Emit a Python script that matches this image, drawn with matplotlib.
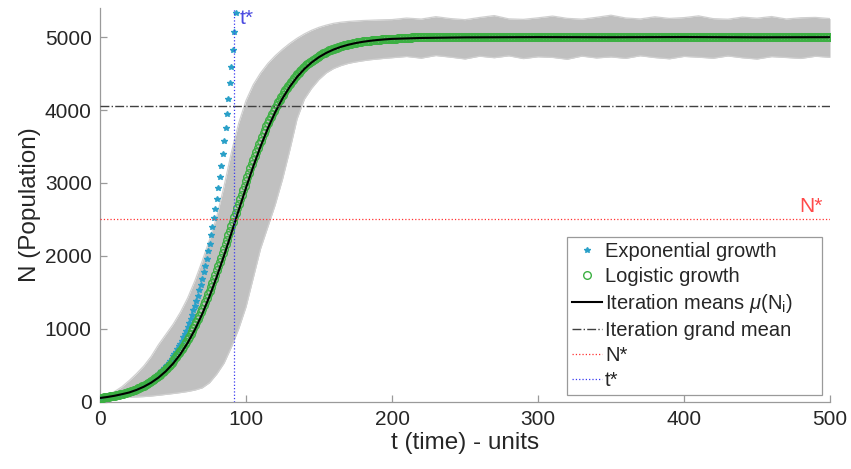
import numpy as np
import matplotlib
matplotlib.use("Agg")
import matplotlib.pyplot as plt

plt.rcParams['font.family'] = ['Liberation Sans', 'DejaVu Sans']
plt.rcParams['mathtext.fontset'] = 'custom'
plt.rcParams['mathtext.rm'] = 'Liberation Sans'
plt.rcParams['mathtext.it'] = 'Liberation Sans:italic'

# Exponential growth, one value per time unit starting at t = 0
exp_n = [51.0, 53.6, 56.4, 59.3, 62.3, 65.5, 68.8, 72.4, 76.1, 80.0,
         84.1, 88.4, 92.9, 97.7, 102.7, 108.0, 113.5, 119.3, 125.4, 131.9,
         138.6, 145.7, 153.2, 161.1, 169.3, 178.0, 187.1, 196.7, 206.8, 217.4,
         228.6, 240.3, 252.6, 265.6, 279.2, 293.5, 308.5, 324.4, 341.0, 358.5,
         376.8, 396.2, 416.5, 437.8, 460.3, 483.9, 508.7, 534.8, 562.2, 591.0,
         621.3, 653.2, 686.6, 721.9, 758.9, 797.8, 838.7, 881.7, 926.9, 974.4,
         1024.4, 1076.9, 1132.1, 1190.1, 1251.2, 1315.3, 1382.7, 1453.6, 1528.2, 1606.5,
         1688.9, 1775.5, 1866.5, 1962.2, 2062.8, 2168.6, 2279.8, 2396.6, 2519.5, 2648.7,
         2784.5, 2927.3, 3077.4, 3235.1, 3401.0, 3575.4, 3758.7, 3951.4, 4154.0, 4366.9,
         4590.9, 4826.3, 5073.7, 5333.8]

# Logistic growth, one value per time unit from t = 0 to t = 213
logistic_n = [51.0, 53.6, 56.3, 59.2, 62.2, 65.3, 68.6, 72.1, 75.7, 79.5,
              83.5, 87.7, 92.1, 96.8, 101.6, 106.7, 112.1, 117.7, 123.6, 129.8,
              136.2, 143.0, 150.2, 157.6, 165.4, 173.6, 182.1, 191.1, 200.6, 210.4,
              220.7, 231.5, 242.8, 254.6, 267.0, 279.9, 293.4, 307.5, 322.3, 337.7,
              353.8, 370.6, 388.1, 406.4, 425.5, 445.3, 466.0, 487.6, 510.0, 533.4,
              557.7, 583.0, 609.2, 636.5, 664.7, 694.1, 724.5, 756.1, 788.8, 822.5,
              857.5, 893.5, 930.8, 969.4, 1008.9, 1049.8, 1091.9, 1135.1, 1179.7, 1225.3,
              1272.2, 1320.2, 1369.3, 1419.6, 1470.9, 1523.4, 1576.8, 1631.3, 1686.7, 1743.1,
              1800.3, 1858.3, 1917.0, 1976.4, 2036.5, 2097.1, 2158.2, 2219.8, 2281.7, 2343.8,
              2406.2, 2468.6, 2531.4, 2593.8, 2656.2, 2718.3, 2780.2, 2841.8, 2902.9, 2963.5,
              3023.6, 3083.0, 3141.7, 3199.7, 3256.9, 3313.2, 3368.7, 3423.2, 3476.6, 3529.1,
              3580.4, 3630.7, 3679.8, 3727.8, 3774.7, 3820.3, 3864.9, 3908.1, 3950.2, 3991.1,
              4030.6, 4069.2, 4106.5, 4142.5, 4177.5, 4211.2, 4243.9, 4275.5, 4305.9, 4335.3,
              4363.5, 4390.8, 4417.0, 4442.3, 4466.6, 4490.0, 4512.4, 4534.0, 4554.7, 4574.5,
              4593.6, 4611.9, 4629.4, 4646.2, 4662.3, 4677.7, 4692.5, 4706.6, 4720.1, 4733.0,
              4745.4, 4757.2, 4768.5, 4779.3, 4789.6, 4799.4, 4808.9, 4817.9, 4826.4, 4834.6,
              4842.4, 4849.8, 4857.0, 4863.8, 4870.2, 4876.4, 4882.3, 4887.9, 4893.3, 4898.4,
              4903.2, 4907.9, 4912.3, 4916.5, 4920.5, 4924.3, 4927.9, 4931.4, 4934.7, 4937.8,
              4940.8, 4943.7, 4946.4, 4949.0, 4951.5, 4953.8, 4956.0, 4958.2, 4960.2, 4962.1,
              4964.0, 4965.7, 4967.4, 4968.9, 4970.4, 4971.9, 4973.2, 4974.5, 4975.8, 4977.0,
              4978.1, 4979.1, 4980.0, 4981.1, 4982.0, 4982.9, 4983.7, 4984.5, 4985.3, 4986.0,
              4986.7, 4987.3, 4987.9, 4988.5]
logistic_plateau = 5000.0
t_end = 500

# Mean of all stochastic iterations
mean_t = [0, 5, 10, 15, 20, 25, 30, 35, 40, 45, 50, 55, 60, 65, 70, 75, 80, 85,
          90, 95, 100, 105, 110, 115, 120, 125, 130, 135, 140, 145, 150, 155,
          160, 165, 170, 175, 180, 185, 190, 195, 200, 220, 250, 300, 350, 400,
          450, 500]
mean_n = [51.0, 64.5, 81.5, 102.9, 126.7, 161.5, 205.5, 260.8, 330.0, 416.0,
          521.7, 650.6, 805.6, 989.1, 1202.5, 1445.2, 1714.9, 2006.4, 2312.8,
          2625.0, 2933.2, 3228.3, 3502.8, 3751.2, 3970.6, 4160.0, 4320.6, 4454.4,
          4564.6, 4654.2, 4726.5, 4784.4, 4830.5, 4867.0, 4895.8, 4918.5, 4936.2,
          4950.2, 4961.1, 4969.6, 4976.4, 4989.0, 4997.0, 5001.0, 4999.0, 5002.0,
          4998.0, 5000.0]

# Spread of the iterations (highest and lowest trajectory)
band_t = [0, 5, 10, 15, 20, 25, 30, 35, 40, 45, 50, 55, 60, 65, 70, 75, 80, 85,
          90, 95, 100, 105, 110, 115, 120, 125, 130, 135, 140, 145, 150, 155,
          160, 165, 170, 175, 180, 185, 190, 195, 200,
          210, 220, 230, 240, 250, 260, 270, 280, 290, 300, 310, 320, 330, 340,
          350, 360, 370, 380, 390, 400, 410, 420, 430, 440, 450, 460, 470, 480,
          490, 500]
band_hi = [51, 90, 140, 205, 290, 385, 490, 620, 780, 920, 1060, 1225, 1420,
           1660, 1930, 2220, 2540, 2960, 3420, 3820, 4130, 4350, 4510, 4640,
           4745, 4835, 4915, 4985, 5045, 5095, 5135, 5165, 5190, 5205, 5215,
           5222, 5228, 5232, 5236, 5239, 5241,
           5262, 5248, 5281, 5255, 5240, 5270, 5296, 5251, 5244, 5265, 5289,
           5258, 5247, 5272, 5301, 5263, 5250, 5279, 5257, 5268, 5292, 5254,
           5246, 5275, 5260, 5283, 5249, 5266, 5271, 5255]
band_lo = [51, 52, 54, 57, 61, 65, 70, 78, 88, 100, 112, 125, 140, 160, 190,
           260, 380, 530, 750, 1000, 1300, 1700, 2100, 2400, 2700, 3050, 3450,
           3880, 4150, 4300, 4420, 4510, 4570, 4610, 4640, 4660, 4676, 4690,
           4700, 4710, 4718,
           4735, 4712, 4748, 4726, 4701, 4739, 4718, 4744, 4706, 4731, 4722,
           4697, 4740, 4715, 4729, 4709, 4745, 4720, 4703, 4736, 4725, 4711,
           4742, 4717, 4700, 4733, 4721, 4708, 4738, 4724]

grand_mean = 4055.0
n_star = 2500.0
t_star = 92.0

x_ticks = [0, 100, 200, 300, 400, 500]
y_ticks = [0, 1000, 2000, 3000, 4000, 5000]

exp_t = np.arange(len(exp_n))
log_full = np.concatenate([logistic_n,
                           np.full(t_end + 1 - len(logistic_n), logistic_plateau)])
log_t = np.arange(len(log_full))

fig = plt.figure(figsize=(8.51, 4.69), dpi=100)
ax = fig.add_axes([100 / 851, 1 - 401.7 / 469, 730 / 851, 393.7 / 469])

band_color = '#c0c0c0'
ax.fill_between(band_t, band_lo, band_hi, color=band_color, lw=0, zorder=1)
ax.plot(band_t, band_hi, color='#d0d0d0', lw=0.9, zorder=1.2)
ax.plot(band_t, band_lo, color='#d0d0d0', lw=0.9, zorder=1.2)

ax.plot(exp_t, exp_n, ls='none', marker='*', ms=4, color='#2aa0c8',
        mec='#2aa0c8', label='Exponential growth', zorder=3)
ax.plot(log_t, log_full, ls='none', marker='o', ms=5.5, mfc='none',
        mec='#3cb043', mew=1.0, label='Logistic growth', zorder=4)
ax.plot(mean_t, mean_n, color='black', lw=1.5,
        label=r'Iteration means $\mu$(N$_\mathrm{i}$)', zorder=5)
ax.axhline(grand_mean, color='#404040', ls='-.', lw=1.0,
           label='Iteration grand mean', zorder=6)
ax.axhline(n_star, color='#ff3030', ls=':', lw=0.9, label='N*', zorder=6)
ax.axvline(t_star, color='#3838f0', ls=':', lw=0.9, label='t*', zorder=6)

ax.text(t_star + 3.5, 5250, 't*', color='#4a4ae0', fontsize=15,
        ha='left', va='center')
ax.text(479, 2680, 'N*', color='#ff4a4a', fontsize=15, ha='left', va='center')

ax.set_xlim(0, 500)
ax.set_ylim(0, 5400)
ax.set_xticks(x_ticks)
ax.set_yticks(y_ticks)
for side in ('top', 'right'):
    ax.spines[side].set_visible(False)
for side in ('left', 'bottom'):
    ax.spines[side].set_color('#9a9a9a')
    ax.spines[side].set_linewidth(0.9)
ax.tick_params(direction='in', length=5, width=0.9, color='#9a9a9a',
               labelsize=15, labelcolor='#262626', pad=6)
ax.set_xlabel('t (time) - units', fontsize=17.5, color='#262626', labelpad=2)
ax.set_ylabel('N (Population)', fontsize=17.5, color='#262626', labelpad=3)

leg = ax.legend(loc='lower left', bbox_to_anchor=(0.6397, 0.017, 0.3493, 0.4),
                mode='expand', fontsize=14.5, frameon=True, fancybox=False,
                framealpha=1, edgecolor='#9a9a9a', handlelength=1.5,
                handletextpad=0.15, labelspacing=0.3, borderpad=0.25,
                borderaxespad=0, markerscale=1.0)
leg.get_frame().set_linewidth(0.9)
for txt in leg.get_texts():
    txt.set_color('#262626')

fig.savefig('out.png', dpi=100)
